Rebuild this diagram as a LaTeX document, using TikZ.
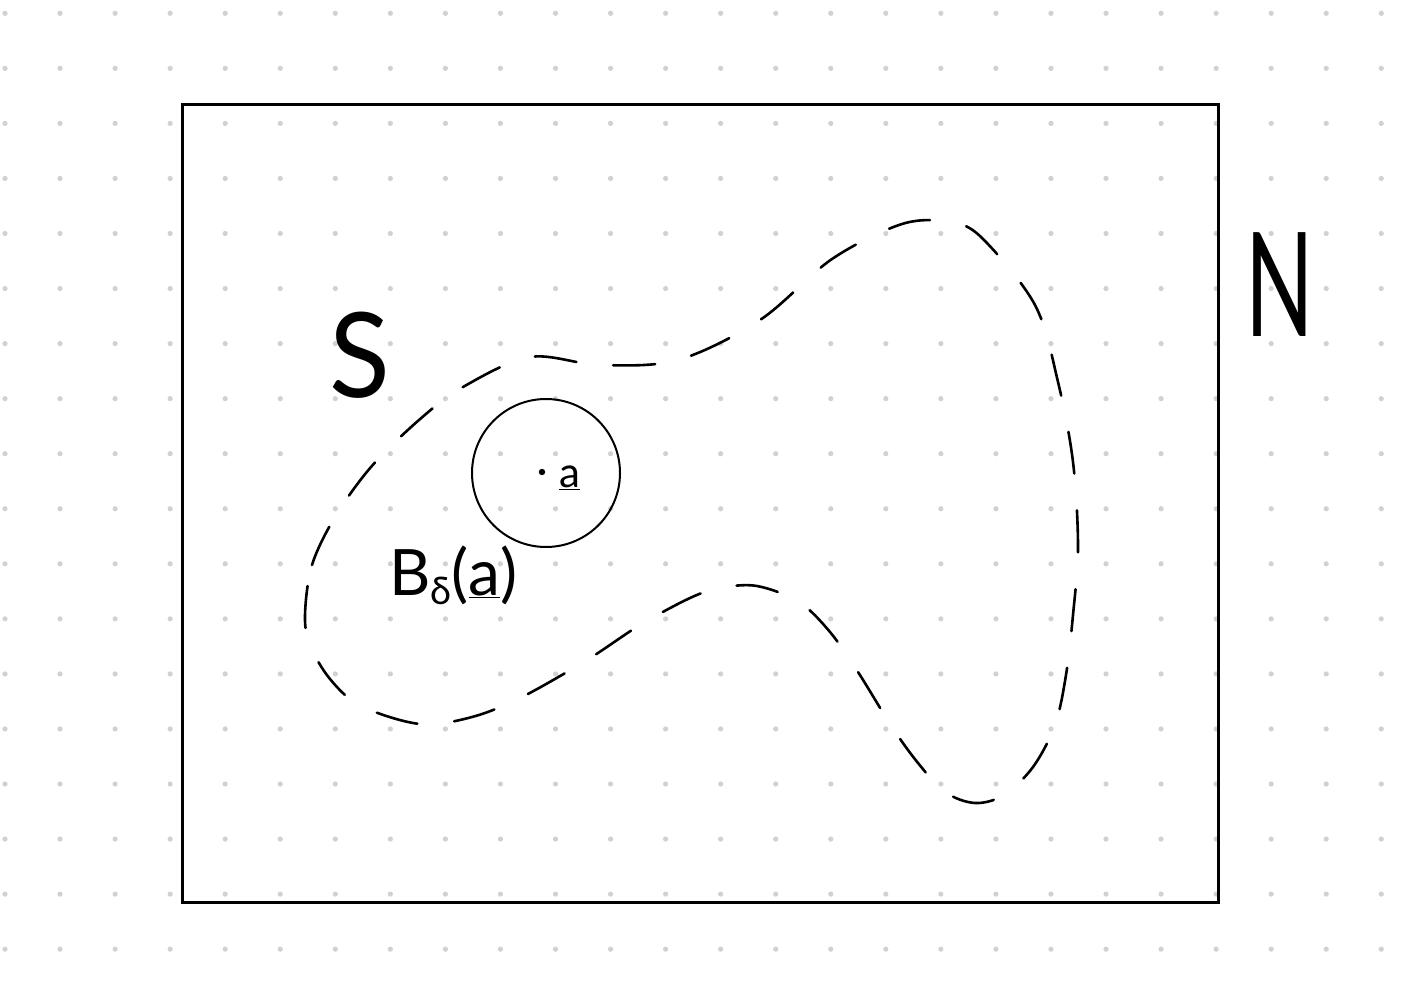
\documentclass[tikz,border=0pt]{standalone}
\usepackage{fontspec}
\newfontfamily\handfont{Lato}
\begin{document}
\begin{tikzpicture}[x=1pt,y=-1pt,
  griddot/.style={fill=black!18,draw=none},
  frame/.style={draw=black,line width=3pt},
  boundary/.style={draw=black,line width=2.6pt,dash pattern=on 42pt off 37pt,line cap=round},
  ball/.style={draw=black,line width=2pt},
  hand/.style={inner sep=0pt}]
\useasboundingbox (0,0) rectangle (1426,1000);
\fill[white] (0,0) rectangle (1426,1000);
% dot grid
\foreach \i in {0,...,25}{
  \foreach \j in {0,...,17}{
    \fill[griddot] ({5+55.05*\i},{13.3+55.05*\j}) circle (2.6);
  }
}
% frame N
\draw[frame] (182,105) rectangle (1218,902);
% set S
\draw[boundary] plot[smooth cycle,tension=0.55] coordinates {
(305,615) (312,565) (335,517) (371,467) (419,420) (463,387) (530,357)
(600,365) (678,360) (760,320) (832,259) (902,224) (950,222) (982,238)
(1035,305) (1058,382) (1073,462) (1078,547) (1073,615) (1066,675)
(1055,725) (1033,767) (1004,795) (975,803) (945,792) (918,763)
(892,727) (858,672) (830,632) (799,602) (757,586) (720,588) (690,598)
(640,625) (587,660) (522,697) (472,717) (420,724) (361,706) (330,679)
(310,645)};
% ball
\draw[ball] (546,473) circle (74);
\fill (542,472) circle (3.2);
\node[hand,anchor=base west,font={\handfont\fontsize{42}{42}\selectfont}] (alabel) at (559,487) {\underline{a}};
% labels
\node[hand,font={\handfont\fontsize{118}{118}\selectfont}] (Slabel) at (360,355) {\scalebox{0.95}[1]{S}};
\node[hand,font={\handfont\fontsize{145}{145}\selectfont}] (Nlabel) at (1280,285) {\scalebox{0.62}[1]{N}};
\node[hand,anchor=base west,font={\handfont\fontsize{64}{64}\selectfont}] (Blabel) at (389,595) {B\raisebox{-0.15em}{\fontsize{38}{38}\selectfont δ}(\underline{a})};
\end{tikzpicture}
\end{document}
